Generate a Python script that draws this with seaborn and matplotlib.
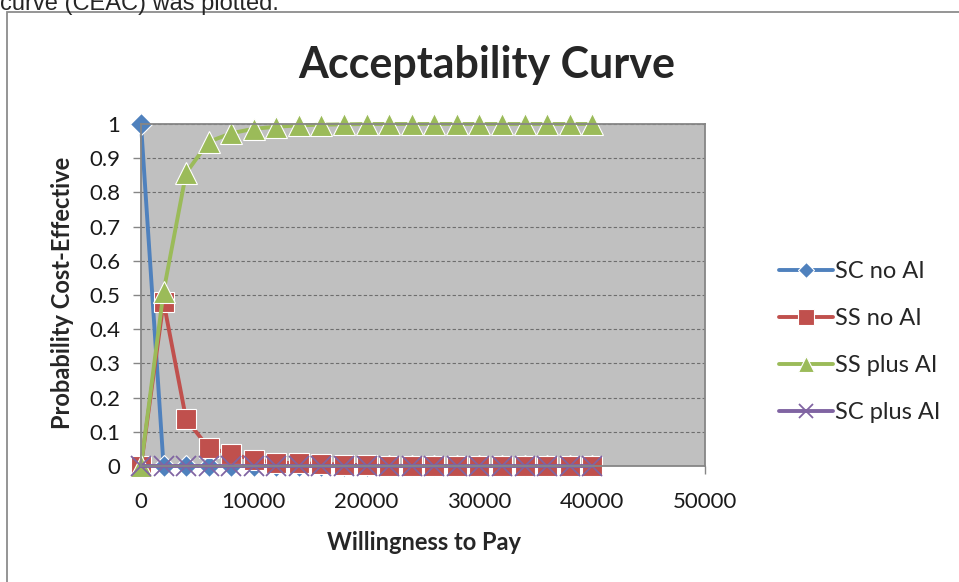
import matplotlib
matplotlib.use("Agg")
import matplotlib.pyplot as plt
import matplotlib.patches as mpatches
import seaborn as sns

sns.set_style("white")
plt.rcParams['font.family'] = ['Lato', 'DejaVu Sans']

# willingness to pay grid
wtp = [0, 2000, 4000, 6000, 8000, 10000, 12000, 14000, 16000, 18000, 20000,
       22000, 24000, 26000, 28000, 30000, 32000, 34000, 36000, 38000, 40000]

sc_no_ai = [1, 0, 0, 0, 0, 0, 0, 0, 0, 0, 0,
            0, 0, 0, 0, 0, 0, 0, 0, 0, 0]
ss_no_ai = [0, 0.48, 0.137, 0.053, 0.036, 0.018, 0.01, 0.008, 0.006, 0.004, 0.002,
            0.001, 0, 0, 0, 0, 0, 0, 0, 0, 0]
ss_plus_ai = [0, 0.51, 0.857, 0.948, 0.973, 0.986, 0.992, 0.996, 0.998, 0.999, 1,
              1, 1, 1, 1, 1, 1, 1, 1, 1, 1]
sc_plus_ai = [0, 0, 0, 0, 0, 0, 0, 0, 0, 0, 0,
              0, 0, 0, 0, 0, 0, 0, 0, 0, 0]

series = [
    ("SC no AI", sc_no_ai, "#4F81BD", "D", 11.5),
    ("SS no AI", ss_no_ai, "#C0504D", "s", 15),
    ("SS plus AI", ss_plus_ai, "#9BBB59", "^", 16),
    ("SC plus AI", sc_plus_ai, "#8064A2", "x", 14),
]

fig = plt.figure(figsize=(9.59, 5.82), dpi=100)
ax = fig.add_axes([141 / 959, 116 / 582, 564 / 959, 342 / 582])
ax.set_facecolor("#C0C0C0")

for name, vals, col, mk, ms in series:
    if mk == "x":
        sns.lineplot(x=wtp, y=vals, ax=ax, color=col, marker=mk, markersize=ms,
                     linewidth=2.8, label=name, markeredgecolor=col,
                     markeredgewidth=1.3, clip_on=False)
    else:
        sns.lineplot(x=wtp, y=vals, ax=ax, color=col, marker=mk, markersize=ms,
                     linewidth=2.8, label=name, markeredgecolor="white",
                     markeredgewidth=0.8, clip_on=False)

ax.set_xlim(0, 50000)
ax.set_ylim(0, 1)
ax.set_xticks([0, 10000, 20000, 30000, 40000, 50000])
ax.set_yticks([0, 0.1, 0.2, 0.3, 0.4, 0.5, 0.6, 0.7, 0.8, 0.9, 1])
ax.set_yticklabels(["0", "0.1", "0.2", "0.3", "0.4", "0.5", "0.6", "0.7", "0.8", "0.9", "1"])
ax.grid(axis="y", color="#6E6E6E", linestyle=(0, (3, 2)), linewidth=0.8)
ax.grid(axis="x", visible=False)
ax.set_axisbelow(True)
for sp in ax.spines.values():
    sp.set_color("#868686")
    sp.set_linewidth(1.3)
ax.tick_params(axis="both", which="major", labelsize=16, colors="#1a1a1a",
               length=6, width=1, color="#868686", direction="out",
               left=True, bottom=True)
ax.tick_params(axis="x", pad=13)
ax.tick_params(axis="y", pad=9)

ax.set_xlabel("Willingness to Pay", fontsize=17, fontweight="bold")
ax.set_ylabel("Probability Cost-Effective", fontsize=17, fontweight="bold")
ax.xaxis.set_label_coords(0.502, -0.19)
ax.yaxis.set_label_coords(-0.118, 0.505)

fig.text(487 / 959, 1 - 65 / 582, "Acceptability Curve", ha="center", va="center",
         fontsize=31, fontweight="bold")

handles, labels = ax.get_legend_handles_labels()
ax.get_legend().remove()
fig.legend(handles, labels, loc="center left", bbox_to_anchor=(770 / 959, 1 - 342 / 582),
           frameon=False, fontsize=17, handlelength=2.25, handletextpad=0.12,
           labelspacing=1.1, markerscale=0.75, borderaxespad=0)

# outer chart frame and the clipped line of text above it
fig.patches.append(mpatches.Rectangle((7 / 959, -0.05), 1.0, 1 - 12 / 582 + 0.05,
                                      transform=fig.transFigure, fill=False,
                                      edgecolor="#8C8C8C", linewidth=1.3))
fig.text(0.0, 1 - 10 / 582, "curve (CEAC) was plotted.", ha="left", va="baseline",
         fontsize=17, family="Liberation Sans")

plt.savefig("out.png", dpi=100)
plt.close()
